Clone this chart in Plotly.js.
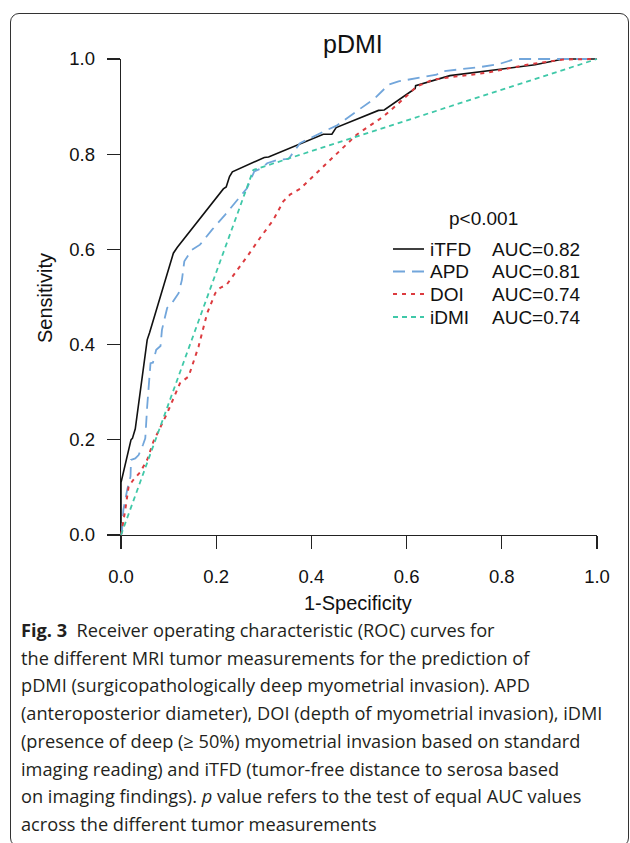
<!DOCTYPE html>
<html><head><meta charset="utf-8">
<script src="https://cdn.plot.ly/plotly-3.0.1.min.js"></script>
<style>
html,body{margin:0;padding:0;background:#fff;}
#wrap{position:relative;width:630px;height:843px;overflow:hidden;}
#chart{width:630px;height:843px;}
#frame{position:absolute;left:10px;top:13px;width:619px;height:834px;border:1.3px solid #333;border-radius:9px;pointer-events:none;box-sizing:border-box;}
</style>
</head><body><div id="wrap"><div id="chart"></div><div id="frame"></div></div>
<script>
// ---------- data ----------
const seriesNames = ['iTFD', 'APD', 'DOI', 'iDMI'];
const aucLabels = ['AUC=0.82', 'AUC=0.81', 'AUC=0.74', 'AUC=0.74'];
const pLabel = 'p<0.001';
const chartTitle = 'pDMI';
const xTitle = '1-Specificity';
const yTitle = 'Sensitivity';
const tickVals = [0, 0.2, 0.4, 0.6, 0.8, 1.0];
const tickText = ['0.0', '0.2', '0.4', '0.6', '0.8', '1.0'];

const itfdX = [0, 0, 0.021, 0.024, 0.030, 0.055, 0.060, 0.110, 0.118, 0.215, 0.221, 0.228, 0.234, 0.280, 0.301, 0.310, 0.425, 0.443, 0.452, 0.541, 0.553, 0.618, 0.619, 0.691, 0.870, 0.929, 1];
const itfdY = [0, 0.110, 0.200, 0.203, 0.223, 0.410, 0.425, 0.592, 0.604, 0.727, 0.731, 0.753, 0.763, 0.783, 0.793, 0.794, 0.842, 0.842, 0.856, 0.892, 0.893, 0.938, 0.944, 0.965, 0.988, 1.0, 1];

const apdX = [0, 0.002, 0.005, 0.013, 0.020, 0.021, 0.030, 0.037, 0.046, 0.051, 0.055, 0.062, 0.067, 0.074, 0.083, 0.086, 0.097, 0.107, 0.121, 0.128, 0.133, 0.149, 0.166, 0.191, 0.219, 0.244, 0.265, 0.280, 0.296, 0.307, 0.328, 0.352, 0.376, 0.433, 0.453, 0.534, 0.562, 0.583, 0.642, 0.663, 0.674, 0.695, 0.754, 0.793, 0.828, 1];
const apdY = [0, 0.007, 0.053, 0.095, 0.123, 0.158, 0.161, 0.168, 0.189, 0.203, 0.270, 0.361, 0.362, 0.389, 0.397, 0.431, 0.477, 0.487, 0.508, 0.536, 0.575, 0.599, 0.610, 0.641, 0.673, 0.704, 0.729, 0.764, 0.771, 0.781, 0.788, 0.790, 0.823, 0.851, 0.860, 0.918, 0.946, 0.953, 0.963, 0.967, 0.974, 0.976, 0.983, 0.989, 1.0, 1];

const doiX = [0, 0.002, 0.009, 0.016, 0.026, 0.041, 0.055, 0.068, 0.097, 0.124, 0.142, 0.163, 0.181, 0.198, 0.208, 0.222, 0.240, 0.265, 0.292, 0.320, 0.341, 0.355, 0.376, 0.422, 0.457, 0.495, 0.551, 0.580, 0.621, 0.656, 0.702, 0.768, 0.817, 0.859, 0.929, 1];
const doiY = [0, 0.011, 0.053, 0.102, 0.116, 0.133, 0.158, 0.196, 0.256, 0.319, 0.333, 0.396, 0.466, 0.508, 0.519, 0.526, 0.550, 0.585, 0.624, 0.662, 0.701, 0.715, 0.727, 0.771, 0.806, 0.841, 0.879, 0.904, 0.942, 0.957, 0.963, 0.971, 0.981, 0.989, 0.999, 1];

const idmiX = [0, 0.278, 1];
const idmiY = [0, 0.767, 1];

const captionLines = [
  '<b>Fig. 3</b>  Receiver operating characteristic (ROC) curves for',
  'the different MRI tumor measurements for the prediction of',
  'pDMI (surgicopathologically deep myometrial invasion). APD',
  '(anteroposterior diameter), DOI (depth of myometrial invasion), iDMI',
  '(presence of deep (\u2265 50%) myometrial invasion based on standard',
  'imaging reading) and iTFD (tumor-free distance to serosa based',
  'on imaging findings). <i>p</i> value refers to the test of equal AUC values',
  'across the different tumor measurements'
];

// ---------- styles ----------
const colors = ['#111111', '#72A6DB', '#DC3B3F', '#3FC8A8'];
const dashes = ['solid', '12px,7px', '4px,5px', '5px,4px'];
const widths = [1.6, 1.8, 2.0, 1.8];
const xs = [itfdX, apdX, doiX, idmiX];
const ys = [itfdY, apdY, doiY, idmiY];

// ---------- geometry helpers (pixel -> paper) ----------
const L = 111, T = 49, W = 496, H = 496, PAD = 10;
const px = v => (v - L) / W;
const py = v => (T + H - v) / H;
const FONT = '"Liberation Sans", Arial, sans-serif';

const traces = [];
// dummy trace so the visible axes (x/y) are drawn
traces.push({x: [0], y: [0], xaxis: 'x', yaxis: 'y', mode: 'markers', marker: {opacity: 0}, showlegend: false, hoverinfo: 'skip'});
for (let i = 0; i < seriesNames.length; i++) {
  traces.push({
    x: xs[i], y: ys[i], name: seriesNames[i], xaxis: 'x2', yaxis: 'y2',
    mode: 'lines', line: {color: colors[i], dash: dashes[i], width: widths[i]},
    showlegend: false
  });
}

const ext = PAD / (W - 2 * PAD);
const axCommon = {
  range: [0, 1], tickvals: tickVals, ticktext: tickText, ticks: 'outside', ticklen: 13,
  tickwidth: 1.3, tickcolor: '#222', showline: true, linecolor: '#222', linewidth: 1.3,
  showgrid: false, zeroline: false, tickfont: {family: FONT, size: 18.5, color: '#111'},
  fixedrange: true
};
const layout = {
  width: 630, height: 843,
  margin: {l: L, t: T, r: 630 - L - W, b: 843 - T - H},
  paper_bgcolor: '#fff', plot_bgcolor: 'rgba(0,0,0,0)',
  showlegend: false,
  xaxis: Object.assign({}, axCommon, {domain: [PAD / W, 1 - PAD / W], anchor: 'y', ticklabelstandoff: 11}),
  yaxis: Object.assign({}, axCommon, {domain: [PAD / H, 1 - PAD / H], anchor: 'x', ticklabelstandoff: 8}),
  xaxis2: {domain: [0, 1], range: [-ext, 1 + ext], visible: false, anchor: 'y2', fixedrange: true},
  yaxis2: {domain: [0, 1], range: [-ext, 1 + ext], visible: false, anchor: 'x2', fixedrange: true},
  annotations: [], shapes: []
};

const ann = (text, x, y, opts) => Object.assign({
  text: text, xref: 'paper', yref: 'paper', x: px(x), y: py(y), showarrow: false,
  xanchor: 'center', yanchor: 'middle', borderpad: 0, borderwidth: 0,
  font: {family: FONT, size: 18.5, color: '#111'}
}, opts || {});

layout.annotations.push(ann(chartTitle, 353, 44, {font: {family: FONT, size: 25, color: '#111'}}));
layout.annotations.push(ann(xTitle, 358, 603, {font: {family: FONT, size: 20, color: '#111'}}));
layout.annotations.push(ann(yTitle, 45, 298, {textangle: -90, font: {family: FONT, size: 20, color: '#111'}}));
layout.annotations.push(ann(pLabel, 483, 218, {font: {family: FONT, size: 19, color: '#111'}}));

// manual legend
const rowY = [249, 271.5, 294, 317];
for (let i = 0; i < seriesNames.length; i++) {
  layout.shapes.push({type: 'line', xref: 'paper', yref: 'paper', x0: px(393), x1: px(424), y0: py(rowY[i]), y1: py(rowY[i]),
    line: {color: colors[i], dash: dashes[i], width: widths[i]}});
  layout.annotations.push(ann(seriesNames[i], 430, rowY[i], {xanchor: 'left', font: {family: FONT, size: 19, color: '#111'}}));
  layout.annotations.push(ann(aucLabels[i], 492, rowY[i], {xanchor: 'left', font: {family: FONT, size: 19, color: '#111'}}));
}

// caption
const capFont = {family: '"Open Sans", "Noto Sans", sans-serif', size: 18.2, color: '#231F20'};
for (let i = 0; i < captionLines.length; i++) {
  layout.annotations.push(ann(captionLines[i], 21, 630 + i * 27.7, {xanchor: 'left', align: 'left', font: capFont}));
}

Plotly.newPlot('chart', traces, layout, {staticPlot: true, displayModeBar: false});
</script></body></html>
